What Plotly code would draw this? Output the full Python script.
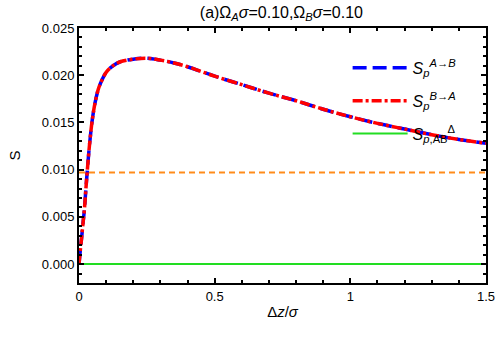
import plotly.graph_objects as go

# curve (both directions coincide)
dz = [0, 0.005, 0.01, 0.015, 0.02, 0.025, 0.03, 0.04, 0.05, 0.06, 0.07, 0.08, 0.1, 0.125,
      0.15, 0.2, 0.25, 0.3, 0.35, 0.4, 0.45, 0.5, 0.6, 0.7, 0.8, 0.9, 1.0, 1.1, 1.2, 1.3, 1.4, 1.5]
s_ab = [0, 0.0015, 0.0029, 0.0044, 0.0058, 0.0078, 0.0097, 0.0130, 0.0155, 0.0172, 0.0184,
        0.0192, 0.0203, 0.0210, 0.0214, 0.0217, 0.0218, 0.0216, 0.0213, 0.0209, 0.0204,
        0.0199, 0.0190, 0.0181, 0.0173, 0.0164, 0.0156, 0.0149, 0.0143, 0.0137, 0.0132, 0.0128]
s_ba = list(s_ab)
s_delta = [0.0 for _ in dz]
ref_level = 0.0097

fig = go.Figure()
fig.add_trace(go.Scatter(x=[dz[0], dz[-1]], y=[ref_level, ref_level], mode="lines",
                         line=dict(color="#ff8c1a", width=2, dash="6px,4px"), showlegend=False))
fig.add_trace(go.Scatter(x=dz, y=s_ab, mode="lines", legendgroup="ab",
                         name="<i>S</i><sub><i>p</i></sub><sup><i>A</i>→<i>B</i></sup>",
                         line=dict(color="#0000ff", width=3.5, dash="14px,6px", shape="spline")))
fig.add_trace(go.Scatter(x=dz, y=s_ba, mode="lines", legendgroup="ba",
                         name="<i>S</i><sub><i>p</i></sub><sup><i>B</i>→<i>A</i></sup>",
                         line=dict(color="#ff0000", width=3.5, dash="10px,3px,3px,3px", shape="spline")))
fig.add_trace(go.Scatter(x=dz, y=s_delta, mode="lines", legendgroup="d",
                         name="<i>S</i><sub><i>p</i>,AB</sub><sup>Δ</sup>",
                         line=dict(color="#22dd22", width=2)))

axis_common = dict(showline=True, linecolor="black", linewidth=2, mirror="ticks",
                   ticks="inside", ticklen=5, tickwidth=1.5, tickcolor="black",
                   showgrid=False, zeroline=False, automargin=False,
                   tickfont=dict(family="Liberation Sans, Arial", size=13, color="black"))

fig.update_layout(
    width=498, height=340,
    margin=dict(l=79, r=12, t=28, b=57),
    paper_bgcolor="white", plot_bgcolor="white",
    font=dict(family="Liberation Sans, Arial", size=13, color="black"),
    title=dict(text="(a)Ω<sub><i>A</i></sub><i>σ</i>=0.10,Ω<sub><i>B</i></sub><i>σ</i>=0.10",
               x=0.565, xanchor="center", y=0.965, yanchor="middle", font=dict(size=16)),
    xaxis=dict(range=[0, 1.5], tickvals=[0, 0.5, 1, 1.5], ticktext=["0", "0.5", "1", "1.5"],
               minor=dict(ticks="inside", ticklen=3, tickcolor="black", dtick=0.1),
               title=dict(text="Δ<i>z</i>/<i>σ</i>", standoff=4, font=dict(size=15)),
               **axis_common),
    yaxis=dict(range=[-0.002, 0.025], tickvals=[0, 0.005, 0.01, 0.015, 0.02, 0.025],
               tickformat=".3f",
               minor=dict(ticks="inside", ticklen=3, tickcolor="black", dtick=0.001),
               title=dict(text="S", standoff=18, font=dict(size=15)),
               **axis_common),
    legend=dict(x=0.66, y=0.91, xanchor="left", yanchor="top", bgcolor="rgba(0,0,0,0)",
                itemwidth=55, tracegroupgap=9, traceorder="grouped", font=dict(size=16)),
)

fig.write_html("out.html", config={"displayModeBar": False},
               post_script="document.body.style.margin='0';")
